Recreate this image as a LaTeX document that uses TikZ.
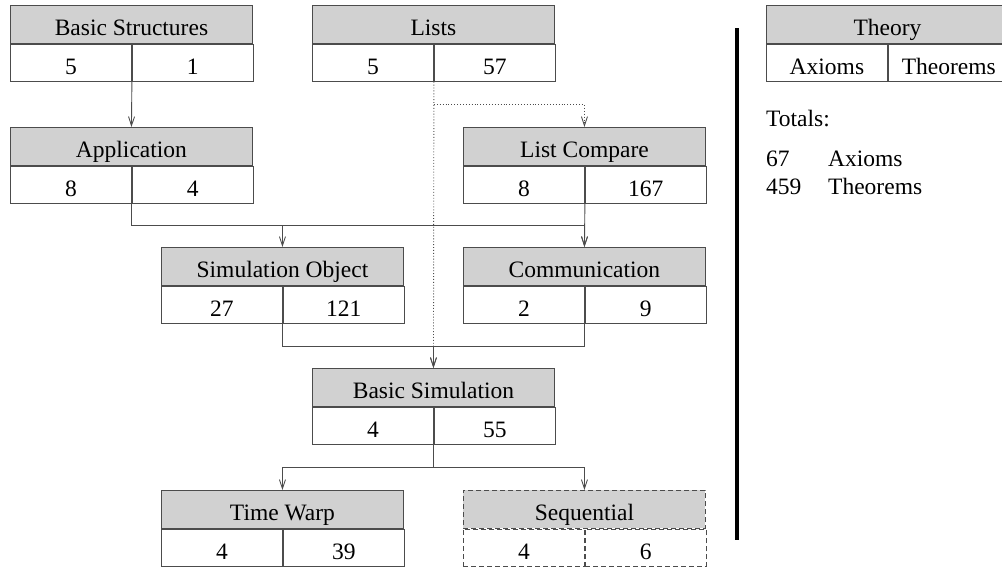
\documentclass[tikz,border=0pt]{standalone}
\usepackage{fontspec}
\setmainfont{Liberation Serif}
\usetikzlibrary{arrows.meta,calc}
\newcommand\tbox[7][]{%
  \node[hd,#1] (#2-h) at (#3,#4) {#5};
  \node[cl,#1] (#2-a) at (#2-h.south west) {#6};
  \node[cl,#1] (#2-b) at (#2-a.north east) {#7};
}
\begin{document}
\begin{tikzpicture}[x=1pt,y=-1pt,font=\fontsize{23.5}{28}\selectfont,
  ln/.style={draw=black!70,line width=0.9pt},
  hd/.style={ln,fill=black!18,minimum width=242pt,minimum height=38pt,inner sep=0pt,
    text height=22.5pt,text depth=0pt,anchor=north west},
  cl/.style={ln,fill=white,minimum width=121pt,minimum height=37pt,inner sep=0pt,
    text height=24pt,text depth=0pt,anchor=north west},
  wire/.style={draw=black!70,line width=0.9pt},
  con/.style={wire,-{Straight Barb[length=9pt,width=6pt]}},
  dashbox/.style={dash pattern=on 5pt off 3pt},
  plain/.style={anchor=base west,inner sep=0pt}
]
\useasboundingbox (0,0) rectangle (1002,567);
\clip (0,0) rectangle (1002,567);

\tbox{bs}{10}{5}{Basic Structures}{5}{1}
\tbox{lists}{312}{5}{Lists}{5}{57}
\tbox{app}{10}{127}{Application}{8}{4}
\tbox{lc}{463}{127}{List Compare}{8}{167}
\tbox{so}{161}{247}{Simulation Object}{27}{121}
\tbox{comm}{463}{247}{Communication}{2}{9}
\tbox{bsim}{312}{368}{Basic Simulation}{4}{55}
\tbox{tw}{161}{490}{Time Warp}{4}{39}
\tbox[dashbox]{seq}{463}{490}{Sequential}{4}{6}
\tbox{th}{766}{5}{Theory}{Axioms}{Theorems}

% connectors
\draw[con] (bs-a.south east) -- (app-h.north);
\coordinate (d1) at ($(lists-a.south east)+(0,23)$);
\draw[con,dotted] (lists-a.south east) -- (bsim-h.north);
\draw[con,dotted] (d1) -| (lc-h.north);

\coordinate (j1) at ($(app-a.south east)+(0,22)$);
\draw[con] (app-a.south east) -- (j1) -| (so-h.north);
\draw[con] (j1) -| (comm-h.north);
\draw[con] (lc-a.south east) -- (comm-h.north);

\coordinate (j2) at ($(so-a.south east)+(0,23)$);
\draw[con] (so-a.south east) -- (j2) -| (bsim-h.north);
\draw[wire] (comm-a.south east) |- (j2);

\coordinate (j3) at ($(bsim-a.south east)+(0,23)$);
\draw[con] (bsim-a.south east) -- (j3) -| (tw-h.north);
\draw[con] (j3) -| (seq-h.north);

% separator bar
\fill[black] (735,28) rectangle (739,540);

% totals
\node[plain] (tot) at (766,127) {Totals:};
\node[plain] (n1) at (766,167) {67};
\node[plain] (t1) at (828,167) {Axioms};
\node[plain] (n2) at (766,195) {459};
\node[plain] (t2) at (828,195) {Theorems};
\end{tikzpicture}
\end{document}
